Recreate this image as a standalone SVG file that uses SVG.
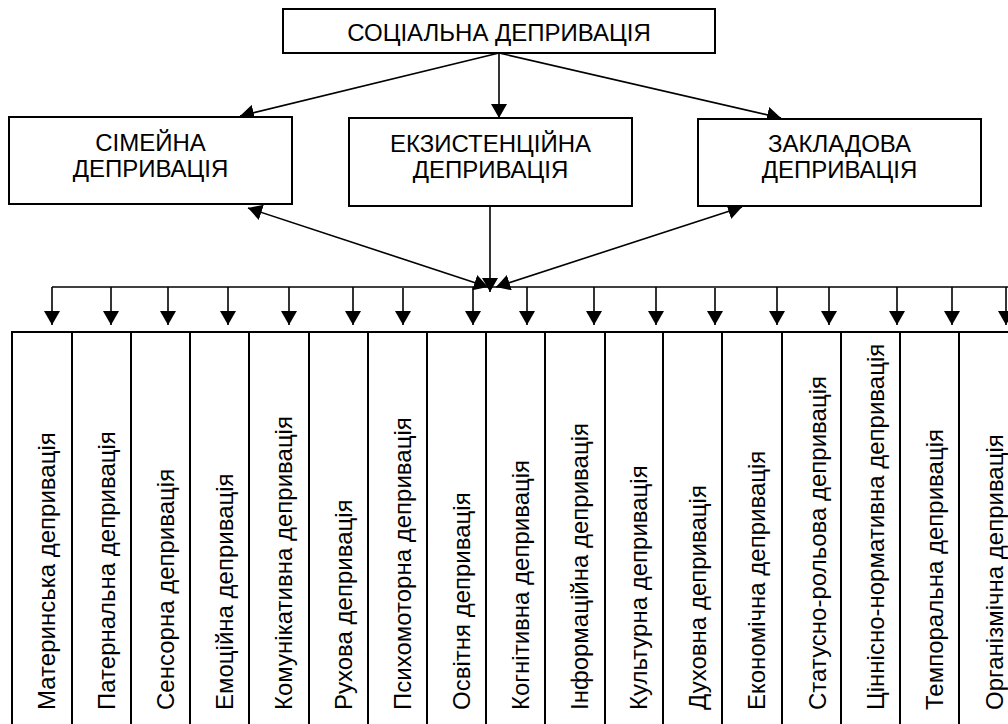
<svg xmlns="http://www.w3.org/2000/svg" width="1008" height="724" viewBox="0 0 1008 724">
<style>
.box{fill:#fff;stroke:#000;stroke-width:2}
.t{font-family:"Liberation Sans",Arial,sans-serif;font-size:24px;fill:#000}
.c{text-anchor:middle}
.ln{stroke:#000;stroke-width:1.6;fill:none}
</style>
<defs>
<marker id="ah" viewBox="0 0 14 16" refX="14" refY="8" markerWidth="14" markerHeight="16" markerUnits="userSpaceOnUse" orient="auto-start-reverse">
<path d="M0,0 L14,8 L0,16 z" fill="#000"/>
</marker>
</defs>
<rect width="1008" height="724" fill="#fff"/>
<g id="connectors">
<line class="ln" x1="499" y1="53" x2="240" y2="116" marker-end="url(#ah)"/>
<line class="ln" x1="499" y1="53" x2="499" y2="118" marker-end="url(#ah)"/>
<line class="ln" x1="499" y1="53" x2="781" y2="118" marker-end="url(#ah)"/>
<line class="ln" x1="248" y1="208" x2="488" y2="287" marker-start="url(#ah)" marker-end="url(#ah)"/>
<line class="ln" x1="742" y1="207" x2="496" y2="287" marker-start="url(#ah)" marker-end="url(#ah)"/>
<line class="ln" x1="490" y1="206" x2="490" y2="292" marker-end="url(#ah)"/>
<line class="ln" x1="52" y1="287" x2="1010" y2="287"/>
<line class="ln" x1="52" y1="287" x2="52" y2="325" marker-end="url(#ah)"/>
<line class="ln" x1="111" y1="287" x2="111" y2="325" marker-end="url(#ah)"/>
<line class="ln" x1="168" y1="287" x2="168" y2="325" marker-end="url(#ah)"/>
<line class="ln" x1="228" y1="287" x2="228" y2="325" marker-end="url(#ah)"/>
<line class="ln" x1="289" y1="287" x2="289" y2="325" marker-end="url(#ah)"/>
<line class="ln" x1="353" y1="287" x2="353" y2="325" marker-end="url(#ah)"/>
<line class="ln" x1="403" y1="288" x2="403" y2="325" marker-end="url(#ah)"/>
<line class="ln" x1="473" y1="287" x2="473" y2="325" marker-end="url(#ah)"/>
<line class="ln" x1="527" y1="287" x2="527" y2="325" marker-end="url(#ah)"/>
<line class="ln" x1="594" y1="287" x2="594" y2="325" marker-end="url(#ah)"/>
<line class="ln" x1="656" y1="287" x2="656" y2="325" marker-end="url(#ah)"/>
<line class="ln" x1="715" y1="288" x2="715" y2="325" marker-end="url(#ah)"/>
<line class="ln" x1="777" y1="287" x2="777" y2="325" marker-end="url(#ah)"/>
<line class="ln" x1="829" y1="287" x2="829" y2="325" marker-end="url(#ah)"/>
<line class="ln" x1="897" y1="287" x2="897" y2="325" marker-end="url(#ah)"/>
<line class="ln" x1="952" y1="287" x2="952" y2="325" marker-end="url(#ah)"/>
<line class="ln" x1="1006" y1="287" x2="1006" y2="325" marker-end="url(#ah)"/>
</g>
<g id="social">
<rect class="box" x="283" y="9" width="432" height="44"/>
<text class="t c" x="499" y="41">СОЦІАЛЬНА ДЕПРИВАЦІЯ</text>
</g>
<g id="family">
<rect class="box" x="9" y="117" width="283" height="87"/>
<text class="t c" x="150.5" y="151">СІМЕЙНА</text>
<text class="t c" x="150.5" y="177">ДЕПРИВАЦІЯ</text>
</g>
<g id="existential">
<rect class="box" x="349" y="118" width="283" height="88"/>
<text class="t c" x="490.5" y="152">ЕКЗИСТЕНЦІЙНА</text>
<text class="t c" x="490.5" y="178">ДЕПРИВАЦІЯ</text>
</g>
<g id="institutional">
<rect class="box" x="698" y="119" width="283" height="87"/>
<text class="t c" x="839.5" y="152">ЗАКЛАДОВА</text>
<text class="t c" x="839.5" y="178">ДЕПРИВАЦІЯ</text>
</g>
<g id="col1"><rect class="box" x="12" y="332" width="60" height="400"/><text class="t" transform="translate(55,710) rotate(-90)">Материнська депривація</text></g>
<g id="col2"><rect class="box" x="72" y="332" width="59" height="400"/><text class="t" transform="translate(115,710) rotate(-90)">Патернальна депривація</text></g>
<g id="col3"><rect class="box" x="131" y="332" width="59" height="400"/><text class="t" transform="translate(173.5,710) rotate(-90)">Сенсорна депривація</text></g>
<g id="col4"><rect class="box" x="190" y="332" width="59" height="400"/><text class="t" transform="translate(232.5,710) rotate(-90)">Емоційна депривація</text></g>
<g id="col5"><rect class="box" x="249" y="332" width="60" height="400"/><text class="t" transform="translate(292,710) rotate(-90)">Комунікативна депривація</text></g>
<g id="col6"><rect class="box" x="309" y="332" width="59" height="400"/><text class="t" transform="translate(351.5,710) rotate(-90)">Рухова депривація</text></g>
<g id="col7"><rect class="box" x="368" y="332" width="59" height="400"/><text class="t" transform="translate(410.5,710) rotate(-90)">Психомоторна депривація</text></g>
<g id="col8"><rect class="box" x="427" y="332" width="59" height="400"/><text class="t" transform="translate(469.5,710) rotate(-90)">Освітня депривація</text></g>
<g id="col9"><rect class="box" x="486" y="332" width="59" height="400"/><text class="t" transform="translate(529,710) rotate(-90)">Когнітивна депривація</text></g>
<g id="col10"><rect class="box" x="545" y="332" width="60" height="400"/><text class="t" transform="translate(588,710) rotate(-90)">Інформаційна депривація</text></g>
<g id="col11"><rect class="box" x="605" y="332" width="58" height="400"/><text class="t" transform="translate(647,710) rotate(-90)">Культурна депривація</text></g>
<g id="col12"><rect class="box" x="663" y="332" width="59" height="400"/><text class="t" transform="translate(705.5,710) rotate(-90)">Духовна депривація</text></g>
<g id="col13"><rect class="box" x="722" y="332" width="60" height="400"/><text class="t" transform="translate(765,710) rotate(-90)">Економічна депривація</text></g>
<g id="col14"><rect class="box" x="782" y="332" width="59" height="400"/><text class="t" transform="translate(826,710) rotate(-90)">Статусно-рольова депривація</text></g>
<g id="col15"><rect class="box" x="841" y="332" width="59" height="400"/><text class="t" transform="translate(884,710) rotate(-90)">Ціннісно-нормативна депривація</text></g>
<g id="col16"><rect class="box" x="900" y="332" width="59" height="400"/><text class="t" transform="translate(943,710) rotate(-90)">Темпоральна депривація</text></g>
<g id="col17"><rect class="box" x="959" y="332" width="60" height="400"/><text class="t" transform="translate(1003,710) rotate(-90)">Організмічна депривація</text></g>
</svg>
